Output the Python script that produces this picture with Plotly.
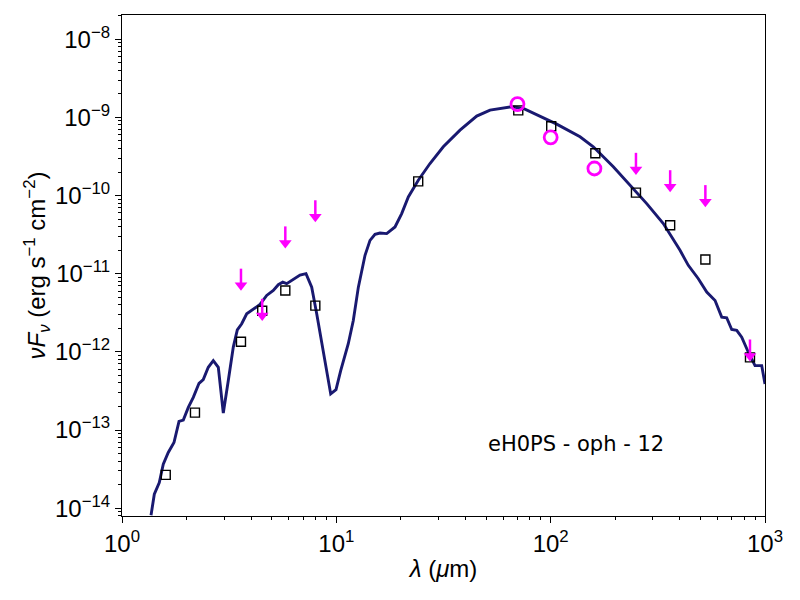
import plotly.graph_objects as go

# model SED (wavelength in micron, nuFnu in erg s^-1 cm^-2)
model_wave = [1.366, 1.415, 1.493, 1.558, 1.644, 1.748, 1.845, 1.932, 2.039, 2.151,
              2.287, 2.394, 2.527, 2.667, 2.814, 2.969, 3.133, 3.306, 3.451, 3.619,
              3.818, 4.100, 4.405, 4.733, 5.081, 5.361, 5.622, 5.867, 6.300, 6.768,
              7.219, 7.676, 8.099, 8.546, 9.018, 9.413, 9.965, 10.48, 11.37, 12.00,
              12.67, 13.61, 14.36, 15.15, 15.99, 17.18, 18.78, 20.18, 21.67, 24.12,
              27.35, 31.55, 37.76, 45.18, 52.12, 58.02, 65.80, 74.56, 89.20, 106.7,
              137.1, 158.1, 196.0, 243.0, 280.6, 335.4, 401.4, 438.7, 488.6, 534.8,
              584.8, 628.1, 662.7, 699.4, 738.0, 778.7, 835.9, 898.3, 965.2, 1000.0]
model_flux = [8.13e-15, 1.51e-14, 2.13e-14, 3.66e-14, 5.16e-14, 6.93e-14, 1.29e-13, 1.34e-13, 1.95e-13, 2.62e-13,
              3.96e-13, 4.42e-13, 6.35e-13, 7.73e-13, 6.35e-13, 1.65e-13, 4.29e-13, 1.15e-12, 1.91e-12, 2.29e-12,
              3.07e-12, 3.56e-12, 4.04e-12, 5.27e-12, 6.11e-12, 7.23e-12, 7.80e-12, 7.45e-12, 8.38e-12, 9.60e-12,
              1.00e-11, 6.73e-12, 3.07e-12, 1.27e-12, 5.22e-13, 2.90e-13, 3.29e-13, 5.75e-13, 1.27e-12, 2.52e-12,
              6.73e-12, 1.72e-11, 2.67e-11, 3.19e-11, 3.32e-11, 3.26e-11, 3.96e-11, 5.88e-11, 9.59e-11, 1.57e-10,
              2.57e-10, 4.20e-10, 6.87e-10, 1.04e-09, 1.24e-09, 1.30e-09, 1.37e-09, 1.30e-09, 1.04e-09, 8.20e-10,
              5.64e-10, 4.20e-10, 2.33e-10, 1.23e-10, 7.89e-11, 4.38e-11, 1.99e-11, 1.28e-11, 8.63e-12, 5.81e-12,
              4.55e-12, 2.78e-12, 2.73e-12, 1.93e-12, 1.88e-12, 1.54e-12, 9.89e-13, 6.67e-13, 6.67e-13, 3.89e-13]

# model photometry (open squares)
phot_wave = [1.60, 2.19, 3.59, 4.51, 5.78, 7.98, 24.1, 70.6, 100.6, 161.6, 250.0, 361.0, 527.0, 851.0]
phot_flux = [2.67e-14, 1.67e-13, 1.35e-12, 3.36e-12, 6.1e-12, 3.9e-12, 1.52e-10, 1.23e-09, 7.7e-10,
             3.48e-10, 1.09e-10, 4.16e-11, 1.52e-11, 8.5e-13]

# observed detections (magenta circles)
obs_wave = [70.0, 100.0, 160.0]
obs_flux = [1.48e-09, 5.55e-10, 2.22e-10]

# upper limits (magenta arrows)
lim_wave = [3.59, 4.51, 5.78, 7.98, 250.0, 361.0, 527.0, 851.0]
lim_flux = [1.16e-11, 4.77e-12, 4.03e-11, 8.7e-11, 3.52e-10, 2.11e-10, 1.36e-10, 1.44e-12]

source_name = "eH0PS - oph - 12"

arrow_head = 10 ** -0.212   # shaft length as factor in log space

fig = go.Figure()

fig.add_trace(go.Scatter(
    x=model_wave, y=model_flux, mode='lines',
    line=dict(color='#191970', width=2.9),
))

fig.add_trace(go.Scatter(
    x=phot_wave, y=phot_flux, mode='markers',
    marker=dict(symbol='square-open', size=9, color='black', line=dict(width=1.4)),
))

fig.add_trace(go.Scatter(
    x=obs_wave, y=obs_flux, mode='markers',
    marker=dict(symbol='circle-open', size=13, color='magenta', line=dict(width=2.8)),
))

shaft_x, shaft_y = [], []
for w, f in zip(lim_wave, lim_flux):
    shaft_x += [w, w, None]
    shaft_y += [f, f * arrow_head, None]
fig.add_trace(go.Scatter(
    x=shaft_x, y=shaft_y, mode='lines',
    line=dict(color='magenta', width=2.5),
))
fig.add_trace(go.Scatter(
    x=lim_wave, y=[f * arrow_head for f in lim_flux], mode='markers',
    marker=dict(symbol='triangle-down', size=11, color='magenta', line=dict(width=0)),
))

tick_font = dict(family='Liberation Sans, Arial, sans-serif', size=24, color='black')

x_major = [1, 10, 100, 1000]
x_text = ['10<sup>0</sup>', '10<sup>1</sup>', '10<sup>2</sup>', '10<sup>3</sup>']
x_minor = [m * 10 ** k for k in range(0, 3) for m in range(2, 10)]

y_major = [10.0 ** k for k in range(-14, -7)]
y_text = ['10<sup>\u2212%d</sup>' % -k for k in range(-14, -7)]
y_minor = [m * 10.0 ** k for k in range(-15, -7) for m in range(2, 10)]

fig.update_layout(
    width=800, height=600,
    margin=dict(l=114, r=43, t=7, b=92),
    paper_bgcolor='white', plot_bgcolor='white',
    showlegend=False,
    xaxis=dict(
        type='log', range=[0, 3],
        showgrid=False, zeroline=False,
        showline=True, linecolor='black', linewidth=1.2, mirror=True,
        ticks='outside', ticklen=6, tickwidth=1.2, tickcolor='black',
        tickmode='array', tickvals=x_major, ticktext=x_text,
        minor=dict(tickmode='array', tickvals=x_minor, ticks='outside',
                   ticklen=3, tickwidth=1, tickcolor='black', showgrid=False),
        tickfont=tick_font,
        title=dict(text='<i>\u03bb</i> (<i>\u03bc</i>m)', font=tick_font, standoff=4),
    ),
    yaxis=dict(
        type='log', range=[-14.10, -7.69],
        showgrid=False, zeroline=False,
        showline=True, linecolor='black', linewidth=1.2, mirror=True,
        ticks='outside', ticklen=6, tickwidth=1.2, tickcolor='black',
        tickmode='array', tickvals=y_major, ticktext=y_text,
        minor=dict(tickmode='array', tickvals=y_minor, ticks='outside',
                   ticklen=3, tickwidth=1, tickcolor='black', showgrid=False),
        tickfont=tick_font,
        title=dict(text='<i>\u03bdF<sub>\u03bd</sub></i> (erg s<sup>\u22121</sup> cm<sup>\u22122</sup>)',
                   font=tick_font, standoff=2),
    ),
    annotations=[dict(
        text=source_name, xref='paper', yref='paper', x=0.706, y=0.144,
        xanchor='center', yanchor='middle', showarrow=False,
        font=dict(family='DejaVu Sans', size=21, color='black'),
    )],
)

fig.write_html("out.html")
